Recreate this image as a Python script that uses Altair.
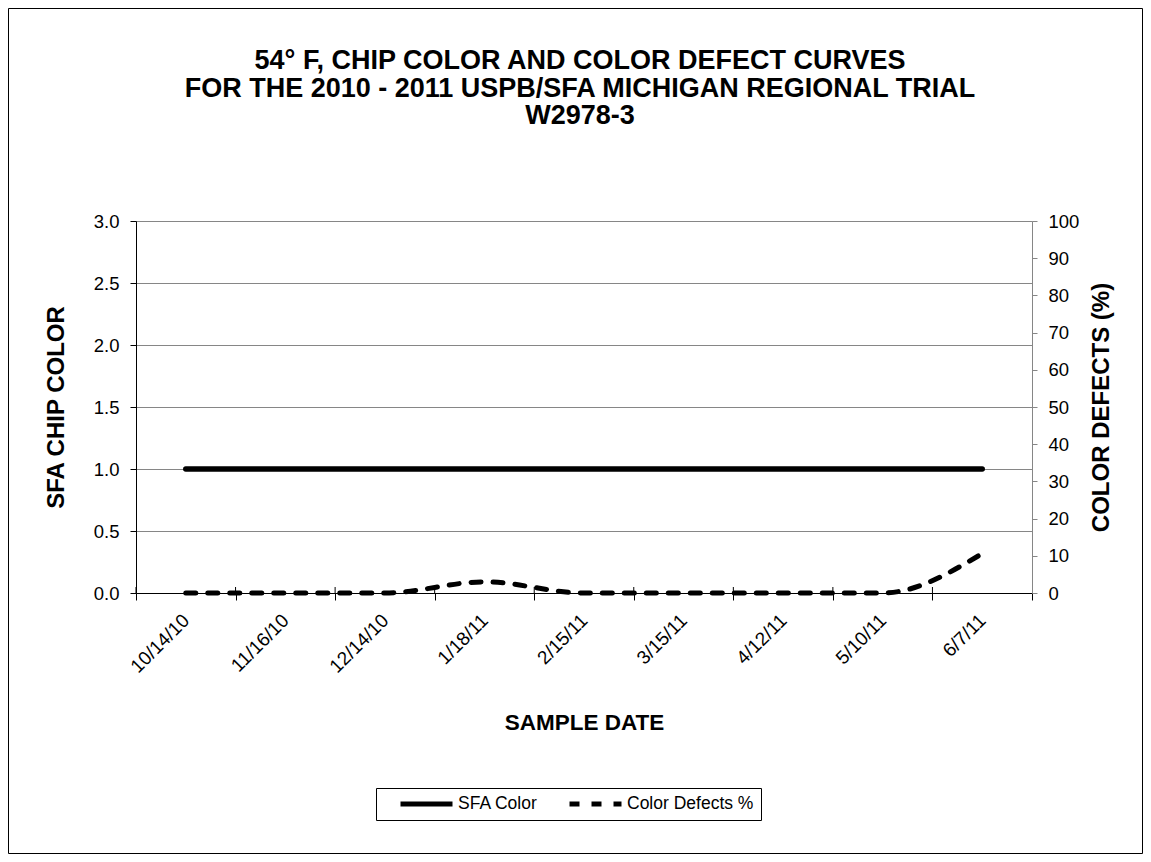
import altair as alt
import pandas as pd

dates = ["10/14/10", "11/16/10", "12/14/10", "1/18/11", "2/15/11",
         "3/15/11", "4/12/11", "5/10/11", "6/7/11"]
sfa_color = [1.0, 1.0, 1.0, 1.0, 1.0, 1.0, 1.0, 1.0, 1.0]
color_defects = [0.0, 0.0, 0.0, 3.0, 0.0, 0.0, 0.0, 0.0, 10.6]
series_names = ["SFA Color", "Color Defects %"]
left_ticks = [0.0, 0.5, 1.0, 1.5, 2.0, 2.5, 3.0]
right_ticks = [0, 10, 20, 30, 40, 50, 60, 70, 80, 90, 100]

FONT = "Liberation Sans"
GRAY = "#868686"

df_sfa = pd.DataFrame({"date": dates, "value": sfa_color, "series": series_names[0]})
df_def = pd.DataFrame({"date": dates, "value": color_defects, "series": series_names[1]})

x_axis = alt.Axis(
    title="SAMPLE DATE",
    labelAngle=315, labelAlign="right", labelBaseline="middle",
    labelFontSize=19, labelPadding=17,
    tickBand="extent", tickSize=7, tickColor="black", domainColor="black",
    grid=False,
    titleFontSize=22.5, titleFontWeight="bold",
    titleX=448, titleY=136, titleBaseline="alphabetic", titleAlign="center",
)
x_scale = alt.Scale(type="band", domain=dates, paddingInner=0, paddingOuter=0)


def make_x(band):
    return alt.X("date:N", sort=dates, bandPosition=band, scale=x_scale, axis=x_axis)


dash_enc = alt.StrokeDash(
    "series:N",
    scale=alt.Scale(domain=series_names, range=[[1, 0], [10, 12]]),
    legend=alt.Legend(
        title=None, orient="none", legendX=240, legendY=567,
        direction="horizontal", columns=2,
        symbolType="stroke", symbolSize=2704, symbolStrokeWidth=5,
        symbolStrokeColor="black", clipHeight=18,
        labelFont=FONT, labelFontSize=17.5, labelColor="black", labelOffset=3,
        strokeColor="black", fillColor="white", padding=7,
        columnPadding=14, symbolOffset=15,
    ),
)

sfa_line = alt.Chart(df_sfa).mark_line(
    color="black", strokeWidth=5.5, strokeCap="round"
).encode(
    x=make_x(0.5),
    y=alt.Y(
        "value:Q",
        scale=alt.Scale(domain=[0, 3], nice=False, zero=True),
        axis=alt.Axis(
            title="SFA CHIP COLOR", orient="left", values=left_ticks, format=".1f",
            labelFontSize=18.5, labelPadding=11, tickSize=6, tickColor="black",
            domainColor="black", grid=True, gridColor=GRAY, gridWidth=1,
            titleFontSize=24, titleFontWeight="bold", titleAngle=270,
            titleX=-80, titleY=186, titleAlign="center", titleBaseline="middle",
        ),
    ),
    strokeDash=dash_enc,
)

def_line = alt.Chart(df_def).mark_line(
    color="black", strokeWidth=5, strokeCap="round", interpolate="monotone"
).encode(
    x=make_x(0.5),
    y=alt.Y(
        "value:Q",
        scale=alt.Scale(domain=[0, 100], nice=False, zero=True),
        axis=alt.Axis(
            title="COLOR DEFECTS (%)", orient="right", values=right_ticks, format="d",
            labelFontSize=18.5, labelPadding=11, tickSize=5, tickColor=GRAY,
            domainColor=GRAY, grid=False,
            titleFontSize=24, titleFontWeight="bold", titleAngle=270,
            titleX=69, titleY=186, titleAlign="center", titleBaseline="middle",
        ),
    ),
    strokeDash=dash_enc,
)

# inner half of the x-axis "cross" tick marks, at the band edges
inner_ticks = alt.Chart(df_sfa).mark_rule(color="black", strokeWidth=1).encode(
    x=make_x(0),
    y=alt.value(366),
    y2=alt.value(372),
)

frame = alt.Chart(pd.DataFrame({"a": [0]})).mark_rect(
    fillOpacity=0, stroke="black", strokeWidth=1
).encode(
    x=alt.value(-127.5), x2=alt.value(1006.5),
    y=alt.value(-212.5), y2=alt.value(632.5),
)

chart = alt.layer(frame, inner_ticks, sfa_line, def_line).resolve_scale(
    y="independent"
).properties(
    width=896,
    height=372,
    autosize=alt.AutoSizeParams(type="none"),
    padding={"left": 128, "top": 213, "right": 111, "bottom": 261},
    title=alt.TitleParams(
        text=["54° F, CHIP COLOR AND COLOR DEFECT CURVES",
              "FOR THE 2010 - 2011 USPB/SFA MICHIGAN REGIONAL TRIAL",
              "W2978-3"],
        anchor="middle", frame="group", fontSize=27, fontWeight="bold",
        font=FONT, color="black", lineHeight=27.5, offset=0, dy=122, dx=-4,
    ),
).configure_view(
    stroke=None
).configure_axis(
    labelFont=FONT, titleFont=FONT, labelColor="black", titleColor="black",
    domainWidth=1, tickWidth=1,
).configure(background="white")

chart.save("out.html", embed_options={"renderer": "svg", "actions": False})
